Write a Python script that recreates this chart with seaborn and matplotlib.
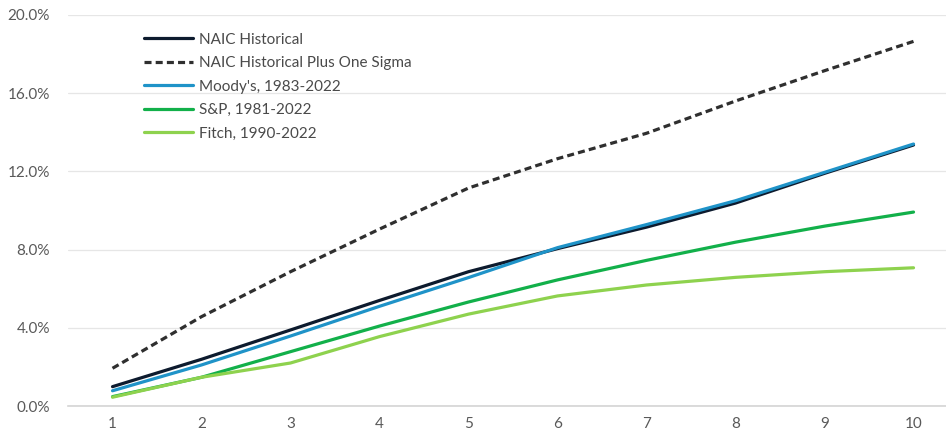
import matplotlib
matplotlib.use("Agg")
import matplotlib.pyplot as plt
import matplotlib.ticker as mticker
import pandas as pd
import seaborn as sns

years = [1, 2, 3, 4, 5, 6, 7, 8, 9, 10]
naic_hist = [0.99, 2.39, 3.89, 5.40, 6.87, 8.05, 9.15, 10.38, 11.90, 13.35]
naic_sigma = [1.93, 4.57, 6.87, 9.05, 11.15, 12.65, 13.95, 15.60, 17.15, 18.65]
moodys = [0.78, 2.10, 3.58, 5.10, 6.57, 8.10, 9.28, 10.50, 11.95, 13.40]
sp = [0.48, 1.47, 2.78, 4.09, 5.32, 6.45, 7.45, 8.38, 9.20, 9.92]
fitch = [0.45, 1.47, 2.20, 3.55, 4.70, 5.63, 6.19, 6.58, 6.87, 7.07]

series_names = [
    "NAIC Historical",
    "NAIC Historical Plus One Sigma",
    "Moody's, 1983-2022",
    "S&P, 1981-2022",
    "Fitch, 1990-2022",
]
series_values = [naic_hist, naic_sigma, moodys, sp, fitch]
colors = ["#0d1b2e", "#2f2f2f", "#1f93c8", "#12b04a", "#8ed24e"]

rows = []
for name, vals in zip(series_names, series_values):
    for yr, v in zip(years, vals):
        rows.append({"year": yr, "rate": v / 100.0, "series": name})
df = pd.DataFrame(rows)

sns.set_theme(style="white")
plt.rcParams["font.family"] = ["Lato", "DejaVu Sans"]

fig = plt.figure(figsize=(9.46, 4.37), dpi=100)
ax = fig.add_axes([0.0719, 0.0709, 0.9408, 0.8948])

dashes = {n: "" for n in series_names}
dashes["NAIC Historical Plus One Sigma"] = (2.2, 1.3)
sns.lineplot(
    data=df, x="year", y="rate", hue="series", style="series",
    hue_order=series_names, style_order=series_names,
    palette=dict(zip(series_names, colors)), dashes=dashes,
    linewidth=2.3, ax=ax, legend=True,
)

ax.set_xlim(0.5, 10.5)
ax.set_ylim(0, 0.20)
ax.set_xticks(years)
ax.set_yticks([0, 0.04, 0.08, 0.12, 0.16, 0.20])
ax.yaxis.set_major_formatter(mticker.FuncFormatter(lambda v, p: f"{v*100:.1f}%"))
ax.set_xlabel("")
ax.set_ylabel("")
ax.grid(axis="y", color="#e6e6e6", linewidth=0.9)
ax.set_axisbelow(True)
for s in ["top", "right", "left"]:
    ax.spines[s].set_visible(False)
ax.spines["bottom"].set_color("#d4d4d4")
ax.spines["bottom"].set_linewidth(1.2)
ax.tick_params(axis="both", length=0, labelsize=11, labelcolor="#595959")
ax.tick_params(axis="y", pad=13)
ax.tick_params(axis="x", pad=8)

leg = ax.legend(
    loc="upper left", bbox_to_anchor=(0.07, 0.99), frameon=False,
    fontsize=11, handlelength=3.2, handletextpad=0.4, labelspacing=0.62,
    labelcolor="#4a4a4a",
)
for line in leg.get_lines():
    line.set_linewidth(2.3)

fig.savefig("out.png", dpi=100)
